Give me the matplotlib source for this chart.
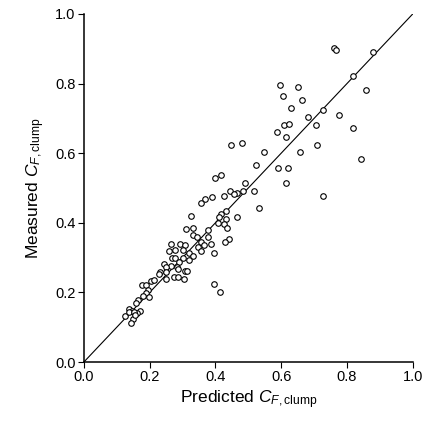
import matplotlib.pyplot as plt
import numpy as np

plt.rcParams["font.family"] = ["Liberation Sans", "DejaVu Sans"]
plt.rcParams["mathtext.fontset"] = "custom"
plt.rcParams["mathtext.rm"] = "Liberation Sans"
plt.rcParams["mathtext.it"] = "Liberation Sans:italic"

predicho = [
    0.760, 0.768, 0.879, 0.819, 0.859, 0.595, 0.652, 0.606, 0.663, 0.630,
    0.726, 0.680, 0.775, 0.608, 0.624, 0.707, 0.819, 0.586, 0.614, 0.447,
    0.480, 0.709, 0.548, 0.657, 0.844, 0.523, 0.589, 0.622, 0.399, 0.416,
    0.614, 0.490, 0.444, 0.518, 0.485, 0.465, 0.456, 0.426, 0.390, 0.369,
    0.356, 0.726, 0.532, 0.326, 0.431, 0.417, 0.412, 0.431, 0.465, 0.407,
    0.425, 0.435, 0.310, 0.331, 0.378, 0.331, 0.345, 0.378, 0.441, 0.428,
    0.357, 0.365, 0.348, 0.386, 0.265, 0.292, 0.306, 0.355, 0.397, 0.259,
    0.277, 0.302, 0.320, 0.333, 0.267, 0.277, 0.300, 0.319, 0.288, 0.243,
    0.265, 0.284, 0.251, 0.286, 0.306, 0.314, 0.231, 0.228, 0.250, 0.251,
    0.274, 0.286, 0.304, 0.203, 0.212, 0.176, 0.188, 0.196, 0.190, 0.181,
    0.198, 0.397, 0.413, 0.164, 0.160, 0.138, 0.146, 0.170, 0.162, 0.126,
    0.136, 0.153, 0.150, 0.142, 0.156,
]
medido = [
    0.903, 0.897, 0.890, 0.822, 0.781, 0.796, 0.791, 0.764, 0.753, 0.729,
    0.724, 0.703, 0.709, 0.682, 0.685, 0.680, 0.672, 0.661, 0.646, 0.623,
    0.630, 0.623, 0.602, 0.602, 0.584, 0.565, 0.556, 0.558, 0.530, 0.537,
    0.514, 0.514, 0.492, 0.491, 0.490, 0.486, 0.482, 0.478, 0.475, 0.469,
    0.458, 0.478, 0.442, 0.420, 0.434, 0.426, 0.416, 0.412, 0.416, 0.398,
    0.396, 0.384, 0.382, 0.384, 0.379, 0.364, 0.360, 0.358, 0.353, 0.346,
    0.344, 0.335, 0.331, 0.338, 0.338, 0.340, 0.335, 0.320, 0.314, 0.318,
    0.321, 0.322, 0.314, 0.306, 0.298, 0.298, 0.300, 0.294, 0.287, 0.281,
    0.277, 0.274, 0.272, 0.266, 0.262, 0.262, 0.258, 0.252, 0.259, 0.239,
    0.244, 0.245, 0.238, 0.234, 0.235, 0.221, 0.220, 0.208, 0.197, 0.190,
    0.188, 0.224, 0.200, 0.177, 0.170, 0.152, 0.148, 0.146, 0.140, 0.133,
    0.143, 0.143, 0.124, 0.112, 0.134,
]
ticks = [0.0, 0.2, 0.4, 0.6, 0.8, 1.0]

fig = plt.figure(figsize=(4.30, 4.21), dpi=100)
ax = fig.add_axes([0.195, 0.140, 0.765, 0.827])

ax.plot([0, 1], [0, 1], color="black", linewidth=0.8)
ax.plot(predicho, medido, "o", markersize=4.0, markerfacecolor="white",
        markeredgecolor="black", markeredgewidth=0.8)

ax.set_xlim(0, 1)
ax.set_ylim(0, 1)
ax.set_xticks(ticks)
ax.set_yticks(ticks)
ax.set_xticklabels([f"{t:.1f}" for t in ticks])
ax.set_yticklabels([f"{t:.1f}" for t in ticks])
ax.spines["top"].set_visible(False)
ax.spines["right"].set_visible(False)
ax.spines["left"].set_linewidth(1.1)
ax.spines["bottom"].set_linewidth(1.1)
ax.tick_params(direction="out", length=4, width=0.8, labelsize=10.5, pad=2)

ax.set_xlabel(r"Predicted $C_{F,\mathrm{clump}}$", fontsize=12.5, labelpad=3)
ax.set_ylabel(r"Measured $C_{F,\mathrm{clump}}$", fontsize=12.5, labelpad=6)

fig.savefig("out.png", dpi=100)
